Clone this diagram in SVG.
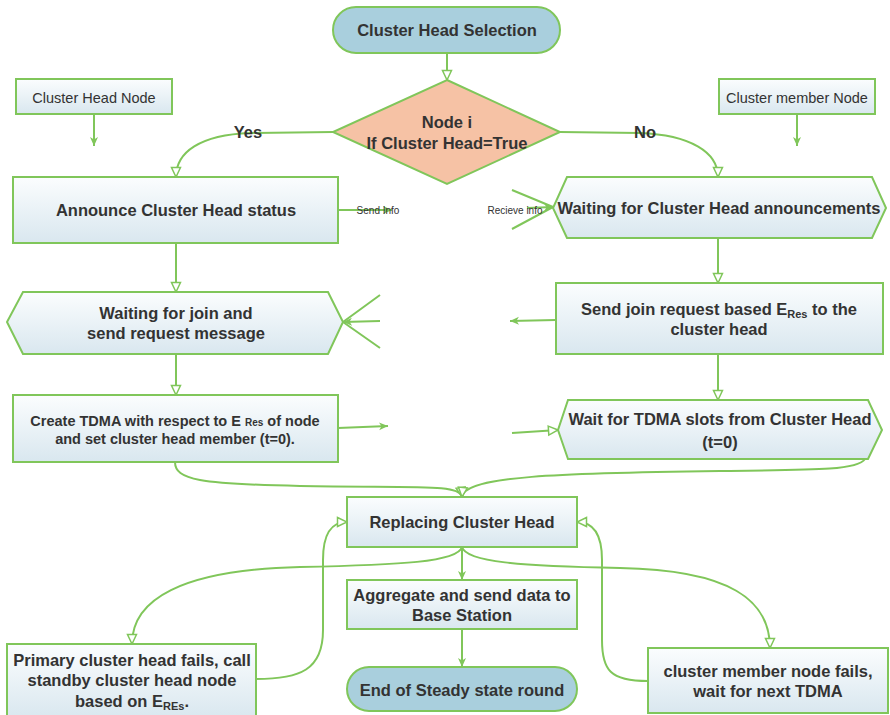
<svg xmlns="http://www.w3.org/2000/svg" width="890" height="715" viewBox="0 0 890 715">
<defs>
<linearGradient id="bx" x1="0" y1="0" x2="0" y2="1">
<stop offset="0" stop-color="#fbfdfe"/>
<stop offset="1" stop-color="#d9e7ef"/>
</linearGradient>
<marker id="hol" viewBox="0 0 12 12" refX="11" refY="6" markerWidth="12" markerHeight="12" orient="auto" markerUnits="userSpaceOnUse">
<path d="M1.5,1.5 L11,6 L1.5,10.5 z" fill="#fff" stroke="#80c65a" stroke-width="1.5"/>
</marker>
<marker id="fil" viewBox="0 0 10 10" refX="9" refY="5" markerWidth="10" markerHeight="10" orient="auto" markerUnits="userSpaceOnUse">
<path d="M0,1 L9,5 L0,9 L2.5,5 z" fill="#80c65a"/>
</marker>
</defs>
<style>
.n{fill:url(#bx);stroke:#80c65a;stroke-width:2}
.t{fill:#a9cfdd;stroke:#80c65a;stroke-width:2}
.d{fill:#f6c2a5;stroke:#80c65a;stroke-width:2}
.c{fill:none;stroke:#80c65a;stroke-width:2}
text{font-family:"Liberation Sans",Arial,sans-serif;fill:#333;text-anchor:middle}
.b{font-weight:bold;font-size:16.5px}
.s{font-weight:bold;font-size:14.5px}
.r{font-size:14.5px}
.x{font-size:10px}
</style>
<g id="connectors">
<path class="c" d="M447,53 L447,80" marker-end="url(#hol)"/>
<path class="c" d="M94,114 L94,146" marker-end="url(#fil)"/>
<path class="c" d="M797,114 L797,146" marker-end="url(#fil)"/>
<path class="c" d="M333,132 L250,133 C200,135 176,152 176,177" marker-end="url(#hol)"/>
<path class="c" d="M560,132 L640,133 C690,135 718,152 718,177" marker-end="url(#hol)"/>
<path class="c" d="M338,210 L392,210" marker-end="url(#fil)"/>
<path class="c" d="M512,190 L553,207 M512,229 L553,207"/>
<path class="c" d="M527,208 L553,207" marker-end="url(#fil)"/>
<path class="c" d="M176,243 L176,292" marker-end="url(#hol)"/>
<path class="c" d="M718,238 L718,283" marker-end="url(#hol)"/>
<path class="c" d="M380,295 L343,322 M380,348 L343,322"/>
<path class="c" d="M380,321 L343,322" marker-end="url(#fil)"/>
<path class="c" d="M556,320 L510,321" marker-end="url(#fil)"/>
<path class="c" d="M176,354 L176,395" marker-end="url(#hol)"/>
<path class="c" d="M718,354 L718,400" marker-end="url(#hol)"/>
<path class="c" d="M338,428 L388,426" marker-end="url(#fil)"/>
<path class="c" d="M512,433 L558,430" marker-end="url(#hol)"/>
<path class="c" d="M175,462 C175,480 200,484 300,486 C420,488 460,484 462,497" marker-end="url(#hol)"/>
<path class="c" d="M865,459 C858,470 820,470 720,471 C560,473 464,476 462,497" marker-end="url(#hol)"/>
<path class="c" d="M462,547 C458,562 400,565 300,567 C180,570 132,600 132,644" marker-end="url(#hol)"/>
<path class="c" d="M462,547 C466,562 520,566 620,568 C730,570 770,600 770,648" marker-end="url(#hol)"/>
<path class="c" d="M256,679 C300,679 323,670 323,630 L323,560 C323,535 330,522 347,522" marker-end="url(#hol)"/>
<path class="c" d="M648,681 C610,681 602,670 602,640 L602,560 C602,535 594,522 577,522" marker-end="url(#hol)"/>
<path class="c" d="M462,547 L462,580" marker-end="url(#fil)"/>
<path class="c" d="M462,629 L462,667" marker-end="url(#fil)"/>
</g>
<g id="labels">
<text class="b" x="248" y="138">Yes</text>
<text class="b" x="645" y="138">No</text>
<text class="x" x="378" y="214">Send Info</text>
<text class="x" x="515" y="214">Recieve info</text>
</g>
<g id="start">
<rect class="t" x="333" y="7" width="227" height="46" rx="23"/>
<text class="b" x="447" y="36">Cluster Head Selection</text>
</g>
<g id="decision">
<polygon class="d" points="447,80 560,132 447,184 333,132"/>
<text class="b" x="447" y="128">Node i</text>
<text class="b" x="447" y="149">If Cluster Head=True</text>
</g>
<g id="chnode">
<rect class="n" x="16" y="79" width="156" height="35"/>
<text class="r" x="94" y="103">Cluster Head Node</text>
</g>
<g id="cmnode">
<rect class="n" x="719" y="79" width="156" height="35"/>
<text class="r" x="797" y="103">Cluster member Node</text>
</g>
<g id="announce">
<rect class="n" x="13" y="177" width="325" height="66"/>
<text class="b" x="176" y="216">Announce Cluster Head status</text>
</g>
<g id="waitann">
<polygon class="n" points="567,177 872,177 886,208 872,238 567,238 553,208"/>
<text class="b" x="719" y="214">Waiting for Cluster Head announcements</text>
</g>
<g id="waitjoin">
<polygon class="n" points="23,292 328,292 343,322 328,354 23,354 7,322"/>
<text class="b" x="176" y="319">Waiting for join and</text>
<text class="b" x="176" y="339">send request message</text>
</g>
<g id="sendjoin">
<rect class="n" x="556" y="283" width="327" height="71"/>
<text class="b" x="719" y="315">Send join request based E<tspan font-size="11" dy="3">Res</tspan><tspan dy="-3"> to the</tspan></text>
<text class="b" x="719" y="335">cluster head</text>
</g>
<g id="createtdma">
<rect class="n" x="13" y="395" width="325" height="67"/>
<text class="s" x="175" y="426">Create TDMA with respect to E <tspan font-size="10">Res</tspan> of node</text>
<text class="s" x="175" y="444">and set cluster head member (t=0).</text>
</g>
<g id="waittdma">
<polygon class="n" points="568,400 868,400 882,430 868,459 568,459 558,430"/>
<text class="b" x="720" y="425">Wait for TDMA slots from Cluster Head</text>
<text class="b" x="720" y="448">(t=0)</text>
</g>
<g id="replacing">
<rect class="n" x="347" y="497" width="230" height="50"/>
<text class="b" x="462" y="528">Replacing Cluster Head</text>
</g>
<g id="aggregate">
<rect class="n" x="347" y="580" width="230" height="49"/>
<text class="b" x="462" y="601">Aggregate and send data to</text>
<text class="b" x="462" y="621">Base Station</text>
</g>
<g id="end">
<rect class="t" x="347" y="667" width="230" height="44" rx="22"/>
<text class="b" x="462" y="696">End of Steady state round</text>
</g>
<g id="primary">
<rect class="n" x="7" y="644" width="249" height="75"/>
<text class="b" x="132" y="666">Primary cluster head fails, call</text>
<text class="b" x="132" y="686">standby cluster head node</text>
<text class="b" x="132" y="707">based on E<tspan font-size="11" dy="3">REs</tspan><tspan dy="-3">.</tspan></text>
</g>
<g id="memberfail">
<rect class="n" x="648" y="648" width="240" height="65"/>
<text class="b" x="768" y="677">cluster member node fails,</text>
<text class="b" x="768" y="697">wait for next TDMA</text>
</g>
</svg>
